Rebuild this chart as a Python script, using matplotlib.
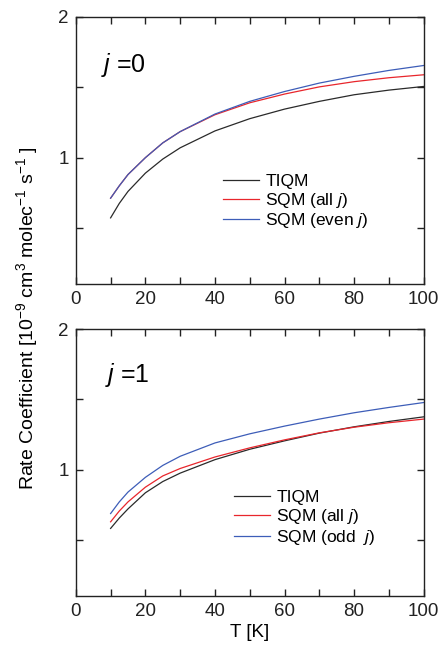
import numpy as np
import matplotlib
matplotlib.use("Agg")
import matplotlib.pyplot as plt
from matplotlib.ticker import MultipleLocator, FixedLocator

plt.rcParams['font.family'] = ['Liberation Sans', 'DejaVu Sans']
plt.rcParams['mathtext.fontset'] = 'custom'
plt.rcParams['mathtext.rm'] = 'Liberation Sans'
plt.rcParams['mathtext.it'] = 'Liberation Sans:italic'

# temperatures [K]
T = [10, 12.5, 15, 20, 25, 30, 40, 50, 60, 70, 80, 90, 100]

# j = 0 panel
tiqm_j0 = [0.572, 0.675, 0.76, 0.89, 0.99, 1.07, 1.19, 1.277, 1.345, 1.40, 1.447, 1.48, 1.506]
sqm_all_j0 = [0.712, 0.80, 0.88, 1.00, 1.105, 1.185, 1.305, 1.39, 1.452, 1.503, 1.54, 1.568, 1.589]
sqm_even_j0 = [0.712, 0.80, 0.88, 1.00, 1.105, 1.185, 1.31, 1.40, 1.47, 1.53, 1.578, 1.62, 1.655]

# j = 1 panel
tiqm_j1 = [0.581, 0.655, 0.72, 0.835, 0.915, 0.975, 1.071, 1.145, 1.205, 1.26, 1.305, 1.343, 1.376]
sqm_all_j1 = [0.628, 0.705, 0.77, 0.875, 0.955, 1.008, 1.09, 1.155, 1.212, 1.262, 1.302, 1.334, 1.36]
sqm_odd_j1 = [0.687, 0.77, 0.84, 0.945, 1.03, 1.095, 1.19, 1.255, 1.31, 1.36, 1.405, 1.443, 1.478]

labels_j0 = ['TIQM', r'SQM (all $j$)', r'SQM (even $j$)']
labels_j1 = ['TIQM', r'SQM (all $j$)', r'SQM (odd  $j$)']
colors = ['#2a2a2a', '#e8262c', '#3d5db8']

fig = plt.figure(figsize=(4.46, 6.52), dpi=100)
ax1 = fig.add_axes([0.170, 0.564, 0.780, 0.410])
ax2 = fig.add_axes([0.170, 0.086, 0.780, 0.409])


def style_axis(ax):
    ax.set_xlim(0, 100)
    ax.set_ylim(0.1, 2)
    ax.xaxis.set_major_locator(MultipleLocator(20))
    ax.xaxis.set_minor_locator(MultipleLocator(10))
    ax.yaxis.set_major_locator(FixedLocator([1, 2]))
    ax.yaxis.set_minor_locator(FixedLocator([0.5, 1.5]))
    ax.tick_params(which='both', direction='in', top=True, right=True,
                   labelsize=13.5, width=1.0, colors='#222222')
    ax.tick_params(which='major', length=5, pad=5)
    ax.tick_params(which='minor', length=5)
    for s in ax.spines.values():
        s.set_linewidth(1.0)
        s.set_color('#222222')


def draw_panel(ax, series, labels, legend_pos, tag, tag_pos):
    for ys, lab, c in zip(series, labels, colors):
        ax.plot(T, ys, color=c, lw=0.9, label=lab)
    style_axis(ax)
    ax.legend(loc='upper left', bbox_to_anchor=legend_pos, frameon=False,
              fontsize=12.5, handlelength=2.1, handletextpad=0.35,
              labelspacing=0.1, borderaxespad=0, borderpad=0)
    ax.text(tag_pos[0], tag_pos[1], tag, transform=ax.transAxes,
            fontsize=18, va='baseline', ha='left')


draw_panel(ax1, [tiqm_j0, sqm_all_j0, sqm_even_j0], labels_j0,
           (0.422, 0.413), r'$j$ =0', (0.072, 0.794))
draw_panel(ax2, [tiqm_j1, sqm_all_j1, sqm_odd_j1], labels_j1,
           (0.454, 0.396), r'$j$ =1', (0.084, 0.804))

ax2.set_xlabel('T [K]', fontsize=13.5, labelpad=3)
fig.text(0.06, 0.512, r'Rate Coefficient [10$^{-9}$ cm$^3$ molec$^{-1}$ s$^{-1}$ ]',
         rotation=90, fontsize=14, ha='center', va='center')

fig.savefig('out.png', dpi=100)
